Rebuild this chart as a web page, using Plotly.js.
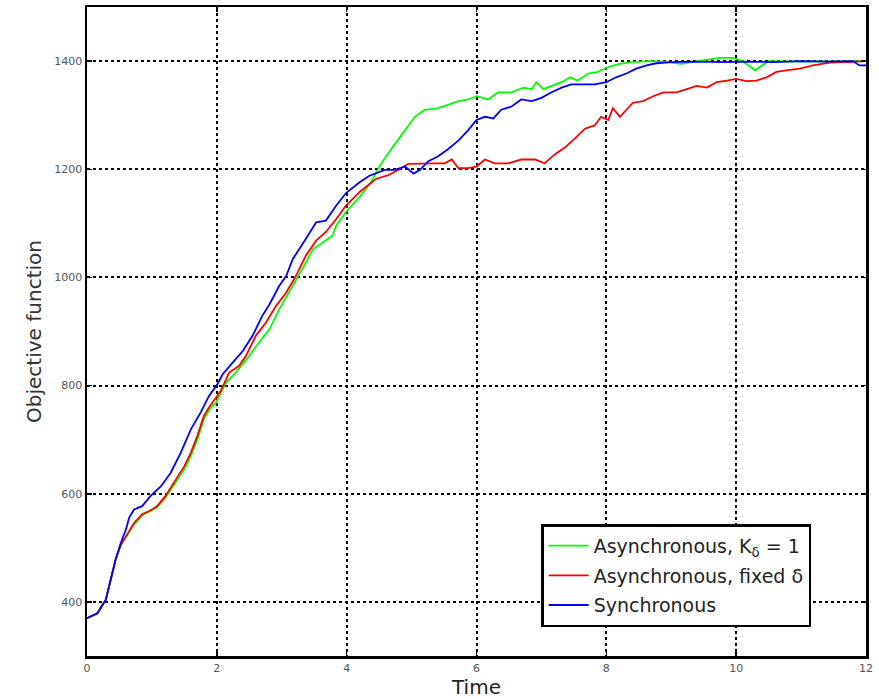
<!DOCTYPE html>
<html>
<head>
<meta charset="utf-8">
<script src="https://cdn.plot.ly/plotly-3.0.1.min.js"></script>
<style>html,body{margin:0;padding:0;background:#fff;}#chart{width:879px;height:699px;}</style>
</head>
<body>
<div id="chart"></div>
<script>
// Asynchronous, K_delta = 1 (green)
const tGreen = [0, 0.16, 0.29, 0.365, 0.44, 0.52, 0.62, 0.725, 0.85, 0.96, 1.08, 1.21, 1.34, 1.5, 1.6, 1.70, 1.8, 1.9, 1.985, 2.14, 2.29, 2.50, 2.65, 2.81, 2.96, 3.17, 3.32, 3.48, 3.63, 3.78, 3.84, 3.99, 4.20, 4.38, 4.49, 4.59, 4.74, 4.90, 5.05, 5.20, 5.41, 5.56, 5.72, 5.87, 6.0, 6.18, 6.33, 6.54, 6.72, 6.85, 6.92, 7.03, 7.15, 7.31, 7.44, 7.56, 7.72, 7.87, 8.03, 8.2, 8.4, 8.65, 8.9, 9.15, 9.4, 9.76, 9.95, 10.1, 10.29, 10.5, 11.0, 11.5, 12];
const vGreen = [370, 379, 404, 441, 478, 505, 523, 543, 560, 567, 575, 593, 617, 645, 670, 700, 738, 758, 768, 805, 824, 855, 880, 904, 941, 984, 1016, 1052, 1065, 1077, 1096, 1121, 1149, 1177, 1202, 1221, 1246, 1272, 1297, 1310, 1313, 1319, 1326, 1329, 1335, 1329, 1342, 1342, 1351, 1348, 1361, 1348, 1354, 1361, 1370, 1364, 1377, 1380, 1389, 1395, 1398, 1400, 1399, 1395, 1400, 1406, 1406, 1400, 1383, 1400, 1399, 1400, 1400];

// Asynchronous, fixed delta (red)
const tRed = [0, 0.16, 0.29, 0.365, 0.44, 0.52, 0.62, 0.725, 0.85, 0.96, 1.08, 1.21, 1.34, 1.5, 1.6, 1.70, 1.8, 1.9, 2.06, 2.19, 2.34, 2.45, 2.60, 2.76, 2.91, 3.07, 3.22, 3.37, 3.53, 3.68, 3.84, 3.99, 4.20, 4.45, 4.64, 4.80, 4.95, 5.15, 5.36, 5.51, 5.62, 5.72, 5.87, 6.0, 6.13, 6.28, 6.49, 6.69, 6.90, 7.05, 7.20, 7.36, 7.51, 7.67, 7.82, 7.92, 8.03, 8.10, 8.21, 8.31, 8.41, 8.57, 8.72, 8.88, 9.08, 9.24, 9.39, 9.55, 9.70, 9.86, 10.0, 10.16, 10.31, 10.47, 10.62, 10.77, 10.98, 11.18, 11.44, 11.7, 12];
const vRed = [370, 379, 404, 441, 478, 505, 525, 546, 562, 568, 577, 596, 621, 651, 676, 707, 744, 763, 790, 824, 836, 855, 892, 917, 947, 972, 1003, 1040, 1068, 1084, 1108, 1133, 1158, 1182, 1189, 1199, 1210, 1211, 1211, 1211, 1218, 1202, 1202, 1205, 1218, 1211, 1211, 1218, 1218, 1211, 1227, 1240, 1256, 1275, 1281, 1297, 1291, 1313, 1297, 1310, 1323, 1326, 1335, 1342, 1342, 1348, 1354, 1351, 1361, 1364, 1367, 1363, 1364, 1370, 1380, 1383, 1386, 1392, 1397, 1398, 1400];

// Synchronous (blue)
const tBlue = [0, 0.16, 0.29, 0.365, 0.44, 0.52, 0.60, 0.65, 0.725, 0.85, 0.98, 1.14, 1.29, 1.445, 1.6, 1.75, 1.88, 2.01, 2.09, 2.24, 2.40, 2.55, 2.70, 2.81, 2.96, 3.07, 3.17, 3.37, 3.53, 3.68, 3.84, 3.99, 4.20, 4.35, 4.59, 4.74, 4.90, 5.03, 5.13, 5.26, 5.41, 5.56, 5.72, 5.87, 6.0, 6.13, 6.26, 6.38, 6.54, 6.69, 6.85, 7.0, 7.15, 7.31, 7.46, 7.62, 7.82, 8.0, 8.15, 8.31, 8.46, 8.62, 8.77, 9.0, 9.4, 9.8, 10.2, 10.6, 11.0, 11.4, 11.8, 11.9, 12];
const vBlue = [370, 379, 404, 441, 478, 509, 534, 556, 571, 577, 596, 614, 639, 676, 719, 750, 781, 803, 821, 842, 864, 892, 929, 950, 984, 1003, 1034, 1071, 1102, 1105, 1133, 1156, 1176, 1188, 1199, 1199, 1205, 1192, 1199, 1215, 1224, 1237, 1253, 1272, 1291, 1297, 1294, 1310, 1316, 1329, 1326, 1332, 1342, 1351, 1357, 1357, 1357, 1361, 1370, 1377, 1386, 1392, 1396, 1398, 1399, 1398, 1399, 1398, 1400, 1399, 1400, 1392, 1392];

const xTicks = [0, 2, 4, 6, 8, 10, 12];
const yTicks = [400, 600, 800, 1000, 1200, 1400];

const names = ['Asynchronous, K<sub>δ</sub> = 1', 'Asynchronous, fixed δ', 'Synchronous'];
const colors = ['#00ff00', '#ff0000', '#0000ff'];

const traces = [
  {x: tGreen, y: vGreen, name: names[0], legendgroup: 'g1', mode: 'lines', line: {color: colors[0], width: 1.8}},
  {x: tRed, y: vRed, name: names[1], legendgroup: 'g2', mode: 'lines', line: {color: colors[1], width: 1.8}},
  {x: tBlue, y: vBlue, name: names[2], legendgroup: 'g3', mode: 'lines', line: {color: colors[2], width: 1.8}}
];

const FONT = 'DejaVu Sans, Verdana, sans-serif';

const axisCommon = {
  showline: true, linecolor: '#000', linewidth: 2.5, mirror: 'ticks',
  ticks: 'inside', ticklen: 5, tickwidth: 1.5, tickcolor: '#000',
  showgrid: true, gridcolor: '#000', gridwidth: 2, griddash: '3px,3px',
  zeroline: false,
  tickfont: {family: FONT, size: 11, color: '#555'}
};

const layout = {
  width: 879, height: 699,
  margin: {l: 87, r: 13, t: 7, b: 43},
  paper_bgcolor: '#fff', plot_bgcolor: '#fff',
  font: {family: FONT, color: '#222'},
  showlegend: true,
  xaxis: Object.assign({}, axisCommon, {
    range: [0, 12], tickvals: xTicks, ticktext: xTicks.map(String),
    title: {text: 'Time', font: {size: 20, color: '#222'}, standoff: 2}
  }),
  yaxis: Object.assign({}, axisCommon, {
    range: [300, 1500], tickvals: yTicks, ticktext: yTicks.map(String),
    title: {text: 'Objective function', font: {size: 20, color: '#333'}, standoff: 8}
  }),
  legend: {
    x: 0.583, y: 0.203, xanchor: 'left', yanchor: 'top',
    bgcolor: '#fff', bordercolor: '#000', borderwidth: 2.5,
    font: {family: FONT, size: 19, color: '#222'},
    itemwidth: 40, tracegroupgap: 2
  }
};

Plotly.newPlot('chart', traces, layout, {staticPlot: true, displayModeBar: false});
</script>
</body>
</html>
